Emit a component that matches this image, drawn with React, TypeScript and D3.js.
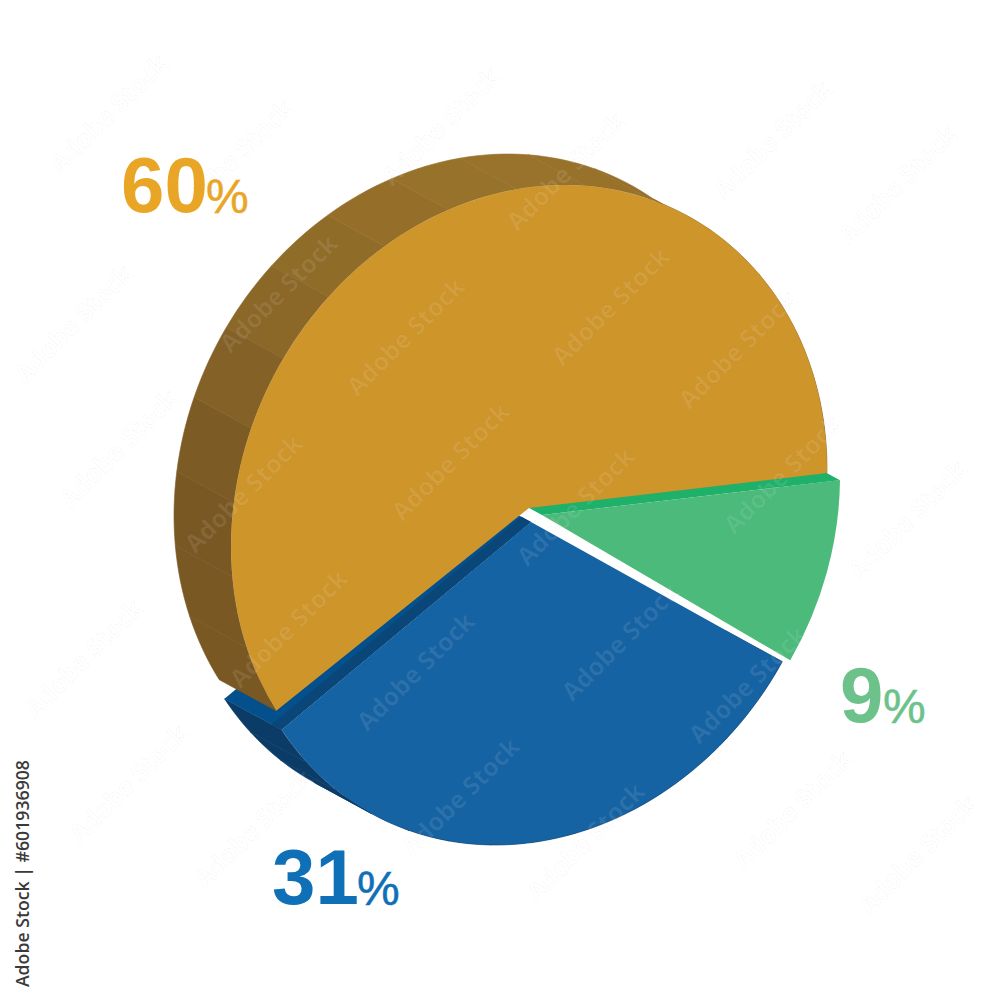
import React, { useRef, useEffect } from 'react';
import * as d3 from 'd3';

// slices in drawing order, clockwise from the lower left
const sliceNames = ['orange', 'green', 'blue'];
const sliceValues = [60, 9, 31];
const faceColors = ['#ce952b', '#4bba7a', '#1663a4'];
const labelColors = ['#e9a626', '#6cc28a', '#0f70b7'];
const labelPositions: [number, number][] = [[121, 212], [840, 722], [272, 904]];
const percentOffsets = [85, 43, 85];

// tilted disc: unit circle -> screen
const cx = 529;
const cy = 508;
const hx = 298;
const hy = 323;
const rho = -0.12;
const startAngle = (236.35 * Math.PI) / 180;
const depth: [number, number] = [-57, -31];
const blueShift: [number, number] = [2, 14];
const blueTurn = -0.02;
const greenShift: [number, number] = [13, 7];
const foreshorten = -0.0303;

const ma = hx;
const mb = hy * rho;
const md = hy * Math.sqrt(1 - rho * rho);

const project = (angle: number): [number, number] => {
  const X = Math.sin(angle);
  const Y = -Math.cos(angle);
  return [cx + ma * X, cy + mb * X + md * Y];
};

const moved = (p: [number, number], s: [number, number], k = 1): [number, number] => [p[0] + s[0] * k, p[1] + s[1] * k];

// watermark grid, four anchors repeating every 332 across and 335 down
const markAnchors = [[75, 325], [280, 295], [120, 450], [245, 495]];

const App = () => {
  const svgRef = useRef<SVGSVGElement>(null);

  useEffect(() => {
    const svg = d3.select(svgRef.current);
    svg.selectAll('*').remove();

    const pie = d3.pie<number>().value(d => d).sort(null).startAngle(startAngle).endAngle(startAngle + Math.PI * 2)(sliceValues);
    // the disc is seen at an angle, so the pie angles get squeezed a little around the orange slice
    const middle = (pie[0].startAngle + pie[0].endAngle) / 2;
    const warp = (a: number) => a + foreshorten * Math.sin(a - middle);
    const slices = pie.map((d, i) => {
      const turn = sliceNames[i] === 'blue' ? blueTurn : 0;
      return { ...d, startAngle: warp(d.startAngle) + turn, endAngle: warp(d.endAngle) + turn };
    });

    const arc = d3.arc<any>().innerRadius(0).outerRadius(1);
    const line = d3.line();
    const poly = (pts: [number, number][]) => line(pts) + 'Z';

    const [orange, green, blue] = slices;

    const band = (g: any, a0: number, a1: number, s: [number, number], fill: string) => {
      const angles = d3.range(0, 9).map(i => a0 + ((a1 - a0) * i) / 8);
      const front = angles.map(a => moved(project(a), s));
      const back = front.map(p => moved(p, depth)).reverse();
      g.append('path').attr('d', poly([...front, ...back])).attr('fill', fill).attr('stroke', fill).attr('stroke-width', 0.6);
    };

    const below = svg.append('g');

    // blue rim and the wall that faces the orange slice
    const blueEdge = blue.endAngle;
    d3.range(0, 14).forEach(i => {
      const step = (blue.endAngle - blue.startAngle) / 14;
      band(below, blue.startAngle + step * i, blue.startAngle + step * (i + 1), blueShift, '#0b3c68');
    });
    const blueApex = moved([cx, cy], blueShift);
    const blueCorner = moved(project(blueEdge), blueShift);
    below.append('path')
      .attr('d', poly([blueApex, blueCorner, moved(blueCorner, depth), moved(blueApex, depth)]))
      .attr('fill', '#04508c');
    below.append('path')
      .attr('d', poly([blueApex, blueCorner, moved(blueCorner, depth, 0.17), moved(blueApex, depth, 0.17)]))
      .attr('fill', '#0a4678');

    // green wall, mostly hidden by the orange slice
    const greenApex = moved([cx, cy], greenShift);
    const greenCorner = moved(project(green.startAngle), greenShift);
    below.append('path')
      .attr('d', poly([greenApex, greenCorner, moved(greenCorner, depth), moved(greenApex, depth)]))
      .attr('fill', '#1fb06a');

    // orange rim in faceted bands
    const shade = d3.scaleLinear<string>().domain([170, 500]).range(['#9a742c', '#7a5823']).interpolate(d3.interpolateRgb).clamp(true);
    const bandCount = 16;
    d3.range(0, bandCount).forEach(i => {
      const step = (orange.endAngle - orange.startAngle) / bandCount;
      const a = orange.startAngle + step * i;
      const mid = project(a + step / 2);
      band(below, a, a + step, [0, 0], shade(mid[1]));
    });

    // faces
    const faces = svg.append('g');
    const matrix = `matrix(${ma},${mb},0,${md},${cx},${cy})`;
    const shifts = [[0, 0], greenShift, blueShift];
    faces.selectAll('path')
      .data(slices)
      .enter()
      .append('path')
      .attr('d', d => arc(d))
      .attr('class', (d, i) => sliceNames[i])
      .attr('fill', (d, i) => faceColors[i])
      .attr('transform', (d, i) => `translate(${shifts[i][0]},${shifts[i][1]}) ${matrix}`);

    // watermark
    const marks = svg.append('g').attr('font-family', '"Open Sans", sans-serif').attr('font-weight', 700).attr('font-size', 25);
    d3.range(-1, 4).forEach(i => {
      d3.range(-1, 4).forEach(j => {
        markAnchors.forEach(([x, y]) => {
          const mx = x + i * 332 + j * 10;
          const my = y + i * 13 + j * 335;
          if (mx < 60 || mx > 940 || my < 60 || my > 940) return;
          marks.append('text')
            .attr('text-anchor', 'middle')
            .attr('dominant-baseline', 'middle')
            .attr('transform', `translate(${mx},${my}) rotate(-45)`)
            .attr('fill', '#fff')
            .attr('fill-opacity', 0.09)
            .attr('stroke', '#000')
            .attr('stroke-opacity', 0.04)
            .attr('stroke-width', 1)
            .text('Adobe Stock');
        });
      });
    });

    // percent labels
    const labels = svg.append('g').attr('font-family', '"Liberation Sans", Arial, sans-serif');
    sliceValues.forEach((v, i) => {
      const [x, y] = labelPositions[i];
      labels.append('text').attr('x', x).attr('y', y).attr('font-size', 78).attr('font-weight', 700).attr('fill', labelColors[i]).text(v);
      labels.append('text').attr('x', x + percentOffsets[i]).attr('y', y + 1).attr('font-size', 48).attr('font-weight', 400)
        .attr('stroke', labelColors[i]).attr('stroke-width', 0.5).attr('fill', labelColors[i]).text('%');
    });

    // stock id on the left edge
    svg.append('text')
      .attr('transform', 'translate(29,760) rotate(-90)')
      .attr('text-anchor', 'end')
      .attr('font-family', '"Open Sans", sans-serif')
      .attr('font-size', 17.7)
      .attr('font-weight', 600)
      .attr('fill', '#3a3a3a')
      .text('Adobe Stock | #601936908');
  }, []);

  return <svg ref={svgRef} width={1000} height={1000} style={{ position: 'absolute', left: 0, top: 0, background: '#fff' }} />;
};

export default App;
